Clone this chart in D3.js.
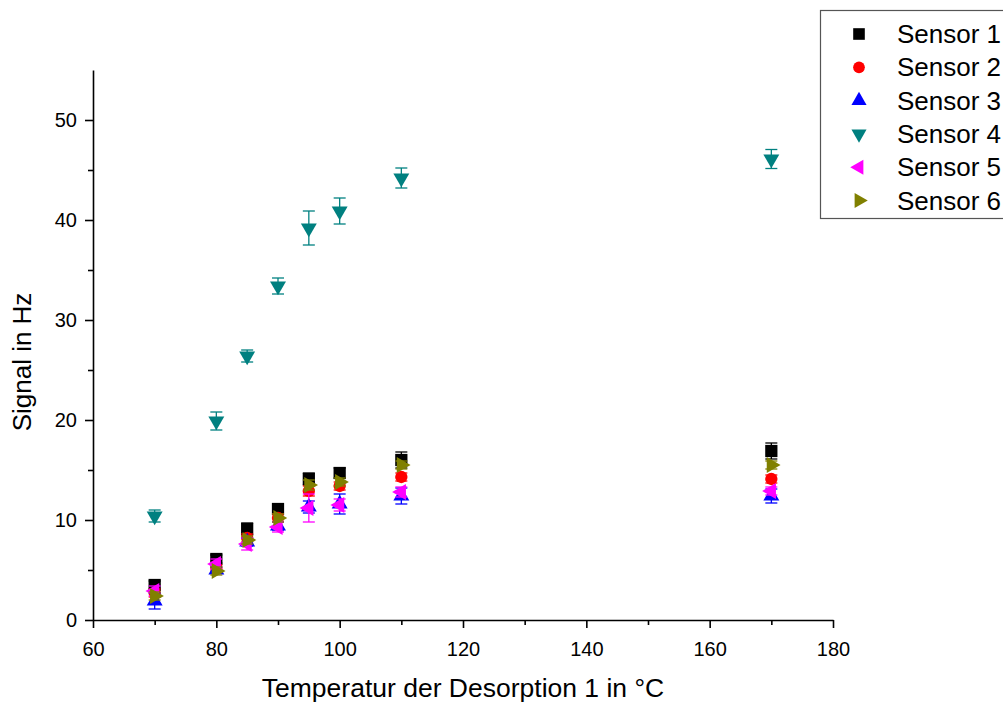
<!DOCTYPE html>
<html>
<head>
<meta charset="utf-8">
<script src="https://cdn.jsdelivr.net/npm/d3@7"></script>
<style>
  body { margin: 0; background: #fff; }
  text { font-family: "Liberation Sans", Arial, sans-serif; }
</style>
</head>
<body>
<svg width="1003" height="703"></svg>
<script>
var width = 1003;
var height = 703;

// data
var temps = [70, 80, 85, 90, 95, 100, 110, 170];
var sensor1 = [3.5, 6.1, 9.1, 11.1, 14.1, 14.7, 16.0, 16.9];
var sensor1Err = [0.4, 0.4, 0.6, 0.5, 0.6, 0.5, 0.8, 0.8];
var sensor2 = [2.7, 5.2, 8.2, 10.2, 12.9, 13.4, 14.3, 14.1];
var sensor2Err = [0.4, 0.3, 0.4, 0.4, 0.5, 0.4, 0.4, 0.4];
var sensor3 = [1.9, 5.0, 7.8, 9.4, 11.3, 11.6, 12.4, 12.4];
var sensor3Err = [0.8, 0.3, 0.4, 0.4, 0.6, 1.0, 0.8, 0.7];
var sensor4 = [10.4, 19.9, 26.4, 33.4, 39.2, 40.9, 44.2, 46.1];
var sensor4Err = [0.6, 0.9, 0.6, 0.8, 1.7, 1.3, 1.0, 0.95];
var sensor5 = [2.9, 5.6, 7.6, 9.3, 11.2, 11.5, 12.8, 12.9];
var sensor5Err = [0.5, 0.5, 0.6, 0.5, 1.4, 0.6, 0.5, 0.4];
var sensor6 = [2.4, 4.9, 8.0, 10.2, 13.5, 13.8, 15.5, 15.5];
var sensor6Err = [0.4, 0.4, 0.4, 0.4, 0.5, 0.4, 0.4, 0.4];

var seriesNames = ["Sensor 1", "Sensor 2", "Sensor 3", "Sensor 4", "Sensor 5", "Sensor 6"];
var seriesValues = [sensor1, sensor2, sensor3, sensor4, sensor5, sensor6];
var seriesErrors = [sensor1Err, sensor2Err, sensor3Err, sensor4Err, sensor5Err, sensor6Err];
var colors = ["#000000", "#ff0000", "#0000ff", "#008080", "#ff00ff", "#808000"];
// symbol type and rotation per series
var shapes = [
  {type: d3.symbolSquare, size: 150, rot: 0},
  {type: d3.symbolCircle, size: 120, rot: 0},
  {type: d3.symbolTriangle, size: 110, rot: 0},
  {type: d3.symbolTriangle, size: 110, rot: 180},
  {type: d3.symbolTriangle, size: 110, rot: -90},
  {type: d3.symbolTriangle, size: 110, rot: 90}
];

var xTicks = [60, 80, 100, 120, 140, 160, 180];
var yTicks = [0, 10, 20, 30, 40, 50];

var plotLeft = 93, plotRight = 833, plotTop = 70, plotBottom = 620;

var xScale = d3.scaleLinear().domain([60, 180]).range([plotLeft, plotRight]);
var yScale = d3.scaleLinear().domain([0, 55]).range([plotBottom, plotTop]);

var svg = d3.select("svg");

// minor ticks
var xMinor = d3.axisBottom(xScale).tickValues(d3.range(70, 180, 20)).tickSize(5).tickFormat("");
var yMinor = d3.axisLeft(yScale).tickValues(d3.range(5, 55, 10)).tickSize(5).tickFormat("");

var xAxis = d3.axisBottom(xScale).tickValues(xTicks).tickSize(8).tickSizeOuter(0).tickPadding(14);
var yAxis = d3.axisLeft(yScale).tickValues(yTicks).tickSize(8).tickSizeOuter(0).tickPadding(8);

svg.append("g")
    .attr("transform", "translate(0," + plotBottom + ")")
    .call(xMinor)
    .call(g => g.select(".domain").remove());
svg.append("g")
    .attr("transform", "translate(" + plotLeft + ",0)")
    .call(yMinor)
    .call(g => g.select(".domain").remove());

var gx = svg.append("g")
    .attr("transform", "translate(0," + plotBottom + ")")
    .call(xAxis);
var gy = svg.append("g")
    .attr("transform", "translate(" + plotLeft + ",0)")
    .call(yAxis);

svg.selectAll(".domain, .tick line")
    .attr("stroke", "#000")
    .attr("stroke-width", 1.6);
gx.selectAll("text").attr("font-size", 20).attr("fill", "#000");
gy.selectAll("text").attr("font-size", 20).attr("fill", "#000");

// error bars and markers, one group per series
seriesValues.forEach(function(vals, s) {
  var pts = temps.map(function(t, i) {
    return {x: t, y: vals[i], e: seriesErrors[s][i]};
  });
  var g = svg.append("g");
  var eb = g.selectAll(".eb").data(pts).enter().append("g")
      .attr("stroke", colors[s])
      .attr("stroke-width", 1.3);
  eb.append("line")
      .attr("x1", d => xScale(d.x)).attr("x2", d => xScale(d.x))
      .attr("y1", d => yScale(d.y - d.e)).attr("y2", d => yScale(d.y + d.e));
  eb.append("line")
      .attr("x1", d => xScale(d.x) - 6).attr("x2", d => xScale(d.x) + 6)
      .attr("y1", d => yScale(d.y + d.e)).attr("y2", d => yScale(d.y + d.e));
  eb.append("line")
      .attr("x1", d => xScale(d.x) - 6).attr("x2", d => xScale(d.x) + 6)
      .attr("y1", d => yScale(d.y - d.e)).attr("y2", d => yScale(d.y - d.e));

  g.selectAll(".pt").data(pts).enter().append("path")
      .attr("d", d3.symbol().type(shapes[s].type).size(shapes[s].size))
      .attr("transform", d => "translate(" + xScale(d.x) + "," + yScale(d.y) + ") rotate(" + shapes[s].rot + ")")
      .attr("fill", colors[s]);
});

// axis titles
svg.append("text")
    .attr("x", (plotLeft + plotRight) / 2)
    .attr("y", 697)
    .attr("text-anchor", "middle")
    .attr("font-size", 26.5)
    .text("Temperatur der Desorption 1 in °C");

svg.append("text")
    .attr("transform", "translate(31," + 362 + ") rotate(-90)")
    .attr("text-anchor", "middle")
    .attr("font-size", 26)
    .text("Signal in Hz");

// legend
var legend = svg.append("g");
legend.append("rect")
    .attr("x", 820.5).attr("y", 10.5)
    .attr("width", 200).attr("height", 208)
    .attr("fill", "#fff")
    .attr("stroke", "#555")
    .attr("stroke-width", 1.2);

seriesNames.forEach(function(name, i) {
  var cy = 34 + i * 33.3;
  legend.append("path")
      .attr("d", d3.symbol().type(shapes[i].type).size(shapes[i].size * 0.9))
      .attr("transform", "translate(859," + cy + ") rotate(" + shapes[i].rot + ")")
      .attr("fill", colors[i]);
  legend.append("text")
      .attr("x", 897)
      .attr("y", cy + 9)
      .attr("font-size", 26)
      .text(name);
});
</script>
</body>
</html>
